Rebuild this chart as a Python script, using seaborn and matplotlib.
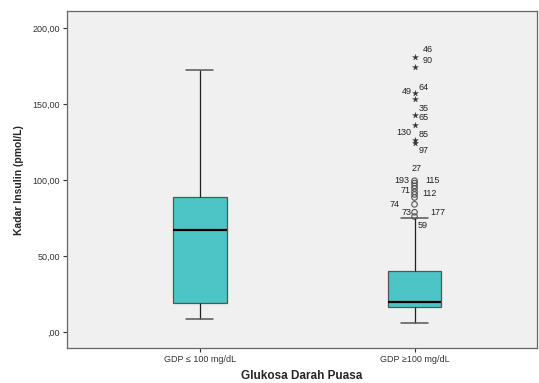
import matplotlib
matplotlib.use('Agg')
import matplotlib.pyplot as plt
import seaborn as sns
import pandas as pd

# Data
groups = ['GDP \u2264 100 mg/dL', 'GDP \u2265100 mg/dL']
# whisker low, Q1, median, Q3, whisker high
box_low = [8.5, 6.0]
box_q1 = [19.0, 16.4]
box_med = [67.0, 19.7]
box_q3 = [88.8, 40.0]
box_high = [172.4, 75.2]

# outliers of group 2 (circles) and extremes (stars)
circle_vals = [99.5, 98.0, 96.2, 94.5, 92.3, 90.5, 88.5, 84.0, 78.8, 76.0]
star_vals = [180.7, 174.1, 157.0, 153.3, 142.8, 136.0, 126.3, 124.5]

case_ids = ['46', '90', '64', '49', '35', '65', '130', '85', '97',
            '27', '193', '115', '71', '112', '74', '73', '177', '59']
case_y = [185.5, 178.6, 161.0, 158.0, 147.0, 141.0, 131.0, 129.6, 119.7,
          107.7, 99.5, 99.5, 93.4, 91.2, 84.2, 78.5, 78.5, 70.4]

yticks = [0, 50, 100, 150, 200]
ytick_labels = [',00', '50,00', '100,00', '150,00', '200,00']

# five points per group -> quartiles come out exactly as read
rows = []
for g, lo, q1, md, q3, hi in zip(groups, box_low, box_q1, box_med, box_q3, box_high):
    for v in (lo, q1, md, q3, hi):
        rows.append({'grp': g, 'val': v})
df = pd.DataFrame(rows)

sns.set_style('white')
plt.rcParams['font.family'] = ['Liberation Sans', 'DejaVu Sans']

fig = plt.figure(figsize=(5.39, 3.83), dpi=100)
ax = fig.add_axes([0.124, 0.091, 0.872, 0.880])
ax.set_facecolor('#f0f0f0')

sns.boxplot(data=df, x='grp', y='val', order=groups, ax=ax,
            whis=(0, 100), showfliers=False, width=0.25,
            color='#4dc4c6', linewidth=0.9, saturation=1,
            boxprops=dict(edgecolor='#555555'),
            whiskerprops=dict(color='#202020'),
            capprops=dict(color='#555555', linewidth=1.1),
            medianprops=dict(color='black', linewidth=1.6))

sns.scatterplot(x=[1] * len(circle_vals), y=circle_vals, marker='o', s=16,
                facecolor='none', edgecolor='#555555', linewidth=0.8, ax=ax)
sns.scatterplot(x=[1] * len(star_vals), y=star_vals, marker='*', s=20,
                color='#333333', edgecolor='#333333', linewidth=0.2, ax=ax)

# label offsets in pixels from the box centre
dx = [13, 13, 9, -8, 9, 9, -11, 9, 9, 2, -13, 18, -9, 15, -20, -8, 23, 8]
for t, y, d in zip(case_ids, case_y, dx):
    ax.text(1 + d / 215, y, t, ha='center', va='center', fontsize=6.5,
            color='#222222')

ax.set_xlim(-0.62, 1.57)
ax.set_ylim(-10.5, 211)
ax.set_yticks(yticks)
ax.set_yticklabels(ytick_labels)
ax.tick_params(axis='both', labelsize=6.5, length=3, width=0.8,
               direction='out', colors='#333333', pad=2)
ax.tick_params(axis='both', left=True, bottom=True)
for s in ax.spines.values():
    s.set_color('#666666')
    s.set_linewidth(0.9)

ax.set_xlabel('Glukosa Darah Puasa', fontsize=8.5, fontweight='bold', labelpad=4)
ax.set_ylabel('Kadar Insulin (pmol/L)', fontsize=7.5, fontweight='bold', labelpad=6)

fig.savefig('out.png', dpi=100)
